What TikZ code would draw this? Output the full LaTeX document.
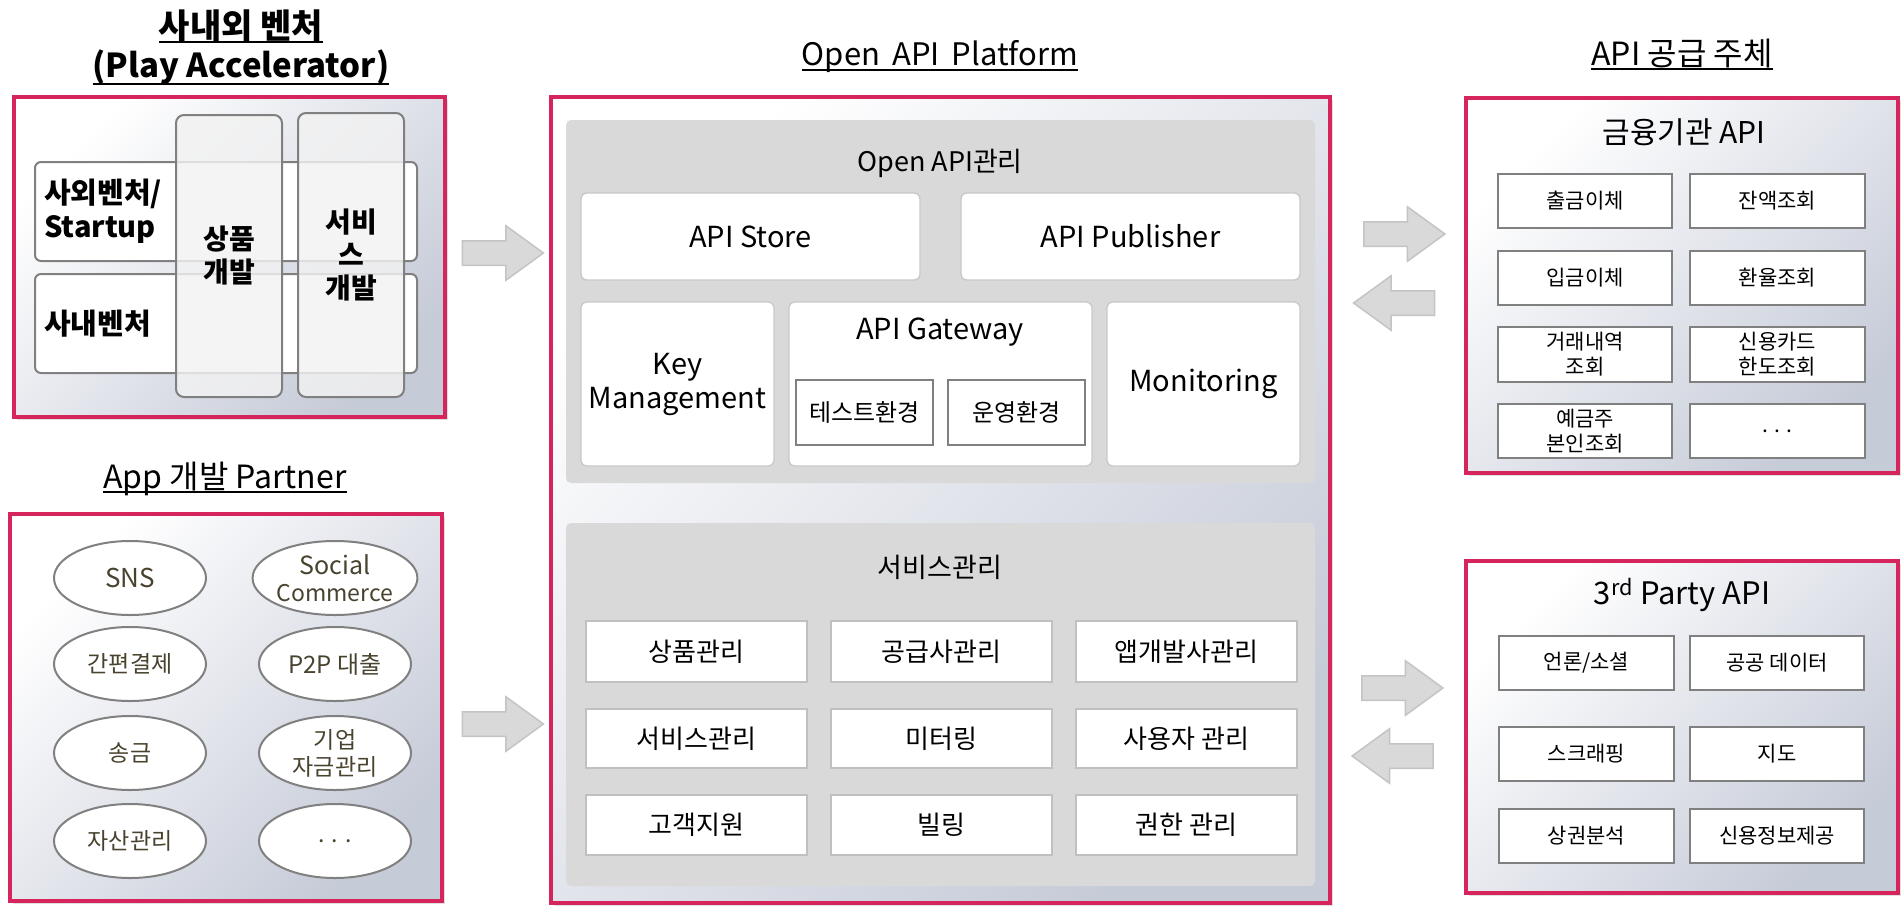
\documentclass[tikz,border=0pt]{standalone}
\usepackage{fontspec}
\setmainfont{Noto Sans CJK KR}
\usetikzlibrary{shapes.geometric,shapes.arrows,shadows}
\definecolor{pinkc}{RGB}{214,36,92}
\definecolor{gradc}{RGB}{198,203,216}
\definecolor{panelc}{RGB}{217,217,217}
\definecolor{lightb}{RGB}{200,200,200}
\definecolor{sboxc}{RGB}{192,192,192}
\definecolor{darkb}{RGB}{128,128,128}
\definecolor{colc}{RGB}{242,242,242}
\definecolor{olivec}{RGB}{72,66,46}
\definecolor{arrowc}{RGB}{217,217,217}
\definecolor{arrowd}{RGB}{196,196,196}
\newcommand{\fsz}[2]{\fontsize{#1pt}{#2pt}\selectfont}
\newcommand{\ulx}[2]{\setbox0\hbox{#2}\rlap{\rule[-#1]{\wd0}{1.6pt}}\box0}
\newcommand{\bx}[7]{\node[#6, minimum width={(#4-#2)*1pt}, minimum height={(#5-#3)*1pt}] (#1) at ({(#2+#4)/2},{(#3+#5)/2}) {#7};}
\begin{document}
\begin{tikzpicture}[x=1pt,y=-1pt,
  pinkbox/.style={draw=pinkc, line width=3.5pt, top color=white, middle color=gradc!30, bottom color=gradc, shading angle=45, inner sep=0pt,
    drop shadow={shadow xshift=3pt, shadow yshift=-3pt, opacity=0.25, fill=black!50}},
  panel/.style={fill=panelc, rounded corners=5pt, inner sep=0pt},
  obox/.style={fill=white, draw=lightb, line width=1.3pt, rounded corners=6pt, inner sep=0pt, align=center, font=\fsz{29}{34}},
  sbox/.style={fill=white, draw=sboxc, line width=1.6pt, inner sep=0pt, font=\fsz{26}{30}},
  gbox/.style={fill=white, draw=darkb, line width=1.5pt, inner sep=0pt, font=\fsz{24}{28}},
  rbox/.style={fill=white, draw=darkb, line width=2pt, inner sep=0pt, align=center, font=\fsz{21}{25}},
  rowbox/.style={fill=white, draw=darkb, line width=2pt, rounded corners=6pt, inner sep=0pt},
  colbox/.style={fill=colc, fill opacity=0.82, text opacity=1, draw=darkb, line width=2pt, rounded corners=8pt, inner sep=0pt, align=center, font=\bfseries\fsz{28}{33}},
  ell/.style={ellipse, draw=darkb, line width=2pt, fill=white, minimum width=152pt, minimum height=74pt, inner sep=0pt, text=olivec, align=center, font=\fsz{23}{27}},
  barrow/.style={single arrow, fill=arrowc, draw=arrowd, line width=1.5pt, minimum height=81pt, minimum width=53pt, single arrow head extend=15pt, single arrow tip angle=72, inner xsep=0pt, inner ysep=11.5pt},
  ttl/.style={anchor=base, inner sep=0pt, font=\fsz{32}{36}},
  hdr/.style={inner sep=0pt, font=\fsz{27}{32}}]
\useasboundingbox (0,0) rectangle (1902,905);
\fill[white] (0,0) rectangle (1902,905);

% ---------- Left top: ventures ----------
\node[ttl, font=\bfseries\fsz{34}{38}] (t1a) at (241,38) {\ulx{5pt}{사내외 벤처}};
\node[ttl, font=\bfseries\fsz{33}{38}] (t1b) at (241,77) {\ulx{8pt}{(Play Accelerator)}};
\bx{pk1}{14}{97}{445}{417}{pinkbox}{}
\bx{row1}{35}{162}{417}{261}{rowbox}{}
\bx{row2}{35}{274}{417}{373}{rowbox}{}
\node[anchor=west, inner sep=0pt, align=left, font=\bfseries\fsz{29}{34}] (row1t) at ([xshift=10pt]row1.west) {사외벤처/\\Startup};
\node[anchor=west, inner sep=0pt, align=left, font=\bfseries\fsz{29}{34}] (row2t) at ([xshift=10pt]row2.west) {사내벤처};
\bx{col1}{176}{115}{282}{397}{colbox}{상품\\개발}
\bx{col2}{298}{113}{404}{397}{colbox}{서비\\스\\개발}

% ---------- Left bottom: app partners ----------
\node[ttl] (t2) at (225,488) {\ulx{5pt}{App 개발 Partner}};
\bx{pk2}{10}{514}{442}{901}{pinkbox}{}
\node[ell] (e1) at (130,578) {\fsz{26}{30}SNS};
\node[ell] (e2) at (335,578) {\fsz{25}{28}Social\\Commerce};
\node[ell] (e3) at (130,664) {간편결제};
\node[ell] (e4) at (335,664) {\fsz{24}{28}P2P 대출};
\node[ell] (e5) at (130,753) {송금};
\node[ell] (e6) at (335,753) {기업\\자금관리};
\node[ell] (e7) at (130,841) {자산관리};
\node[ell] (e8) at (335,841) {. . .};

% ---------- Arrows left -> center ----------
\node[barrow] (a1) at (494.5,253) {};
\node[barrow] (a2) at (494.5,724) {};

% ---------- Center: Open API platform ----------
\node[ttl, font=\fsz{31}{36}] (t3) at (940,65) {\ulx{6pt}{Open\, API\, Platform}};
\bx{pk3}{551}{97}{1330}{903}{pinkbox}{}
\bx{pn1}{566}{120}{1315}{483}{panel}{}
\node[hdr] (pn1t) at (940,163) {Open API관리};
\bx{store}{581}{193}{920}{280}{obox}{API Store}
\bx{pub}{961}{193}{1300}{280}{obox}{API Publisher}
\bx{key}{581}{302}{774}{466}{obox}{Key\\Management}
\bx{gw}{789}{302}{1092}{466}{obox}{}
\node[inner sep=0pt, font=\fsz{29}{34}] (gwt) at (940,332) {API Gateway};
\bx{test}{796}{380}{933}{445}{gbox}{테스트환경}
\bx{prod}{948}{380}{1085}{445}{gbox}{운영환경}
\bx{mon}{1107}{302}{1300}{466}{obox}{Monitoring}

\bx{pn2}{566}{523}{1315}{886}{panel}{}
\node[hdr] (pn2t) at (940,567) {서비스관리};
\bx{s11}{586}{621}{807}{682}{sbox}{상품관리}
\bx{s12}{831}{621}{1052}{682}{sbox}{공급사관리}
\bx{s13}{1076}{621}{1297}{682}{sbox}{앱개발사관리}
\bx{s21}{586}{709}{807}{768}{sbox}{서비스관리}
\bx{s22}{831}{709}{1052}{768}{sbox}{미터링}
\bx{s23}{1076}{709}{1297}{768}{sbox}{사용자 관리}
\bx{s31}{586}{795}{807}{855}{sbox}{고객지원}
\bx{s32}{831}{795}{1052}{855}{sbox}{빌링}
\bx{s33}{1076}{795}{1297}{855}{sbox}{권한 관리}

% ---------- Arrows center <-> right ----------
\node[barrow] (a3) at (1396,234) {};
\node[barrow, shape border rotate=180] (a4) at (1402.5,303) {};
\node[barrow] (a5) at (1394,688) {};
\node[barrow, shape border rotate=180] (a6) at (1401,756) {};

% ---------- Right: API providers ----------
\node[ttl] (t4) at (1682,65) {\ulx{5pt}{API 공급 주체}};
\bx{pk4}{1466}{98}{1898}{473}{pinkbox}{}
\node[inner sep=0pt, font=\fsz{30}{34}] (pk4t) at (1684,132) {금융기관 API};
\bx{f11}{1498}{174}{1672}{228}{rbox}{출금이체}
\bx{f12}{1690}{174}{1865}{228}{rbox}{잔액조회}
\bx{f21}{1498}{251}{1672}{305}{rbox}{입금이체}
\bx{f22}{1690}{251}{1865}{305}{rbox}{환율조회}
\bx{f31}{1498}{327}{1672}{382}{rbox}{거래내역\\조회}
\bx{f32}{1690}{327}{1865}{382}{rbox}{신용카드\\한도조회}
\bx{f41}{1498}{404}{1672}{458}{rbox}{예금주\\본인조회}
\bx{f42}{1690}{404}{1865}{458}{rbox}{. . .}

\bx{pk5}{1466}{561}{1898}{893}{pinkbox}{}
\node[inner sep=0pt, font=\fsz{31}{34}] (pk5t) at (1682,595) {3\textsuperscript{rd} Party API};
\bx{p11}{1499}{636}{1674}{690}{rbox}{언론/소셜}
\bx{p12}{1690}{636}{1864}{690}{rbox}{공공 데이터}
\bx{p21}{1499}{727}{1674}{781}{rbox}{스크래핑}
\bx{p22}{1690}{727}{1864}{781}{rbox}{지도}
\bx{p31}{1499}{809}{1674}{863}{rbox}{상권분석}
\bx{p32}{1690}{809}{1864}{863}{rbox}{신용정보제공}
\end{tikzpicture}
\end{document}
